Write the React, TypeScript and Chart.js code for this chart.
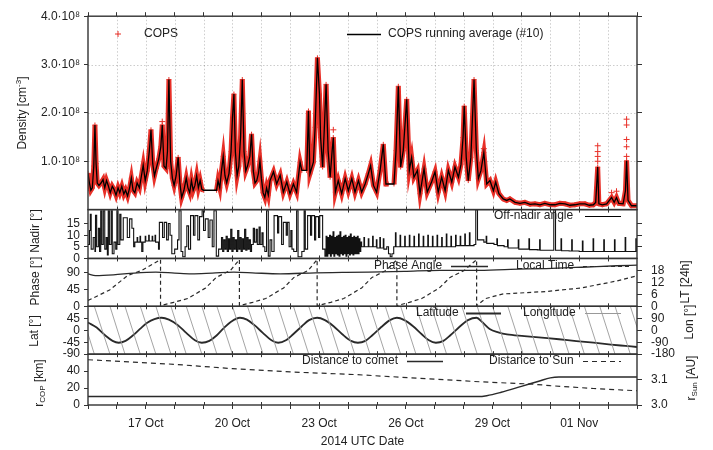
import React, { useEffect, useRef } from 'react';
import { Chart, registerables } from 'chart.js';

Chart.register(...registerables);

// x values: days since 2014-10-15 00:00 UTC
const xMin = 0;
const xMax = 19;
const xTickLabelDays = [2, 5, 8, 11, 14, 17];
const xTickLabels = ['17 Oct', '20 Oct', '23 Oct', '26 Oct', '29 Oct', '01 Nov'];

// COPS density, running average (#10), units of 1e8 cm^-3
const copsAvg: [number, number][] = [
  [0.00, 0.75], [0.05, 0.55], [0.10, 0.40], [0.15, 0.45], [0.20, 0.90], [0.24, 1.75], [0.28, 0.95], [0.32, 0.55],
  [0.38, 0.50], [0.45, 0.55], [0.52, 0.62], [0.58, 0.45], [0.64, 0.60], [0.70, 0.50], [0.77, 0.35], [0.84, 0.48],
  [0.90, 0.42], [0.97, 0.30], [1.04, 0.45], [1.10, 0.35], [1.17, 0.48], [1.24, 0.32], [1.30, 0.40], [1.37, 0.28],
  [1.44, 0.45], [1.50, 0.65], [1.56, 0.40], [1.62, 0.35], [1.70, 0.55], [1.78, 0.45], [1.85, 0.70], [1.91, 0.92],
  [1.98, 0.60], [2.05, 0.80], [2.12, 1.20], [2.18, 1.65], [2.24, 0.95], [2.30, 0.70], [2.36, 0.85], [2.45, 1.05],
  [2.52, 1.30], [2.57, 1.75], [2.63, 0.90], [2.70, 0.85], [2.75, 1.20], [2.80, 2.69], [2.86, 1.00], [2.92, 0.65],
  [2.98, 0.50], [3.05, 0.70], [3.12, 1.08], [3.18, 0.55], [3.24, 0.25], [3.32, 0.40], [3.40, 0.65], [3.46, 0.45],
  [3.52, 0.35], [3.58, 0.60], [3.64, 0.40], [3.70, 0.50], [3.76, 0.70], [3.82, 0.45], [3.88, 0.60], [3.94, 0.42],
  [4.00, 0.40], [4.45, 0.40], [4.50, 0.60], [4.56, 0.45], [4.62, 0.80], [4.68, 1.10], [4.74, 0.70], [4.80, 0.55],
  [4.88, 0.75], [4.95, 1.20], [5.00, 1.90], [5.05, 2.39], [5.10, 1.20], [5.16, 0.70], [5.22, 0.90], [5.28, 1.50],
  [5.34, 2.69], [5.40, 1.20], [5.46, 0.80], [5.52, 0.90], [5.60, 1.10], [5.66, 1.56], [5.72, 0.80], [5.78, 0.55],
  [5.84, 0.60], [5.90, 0.75], [5.95, 1.00], [6.00, 0.65], [6.06, 0.35], [6.12, 0.25], [6.18, 0.45], [6.24, 0.30],
  [6.30, 0.60], [6.42, 0.78], [6.53, 0.53], [6.65, 0.71], [6.76, 0.36], [6.88, 0.57], [6.99, 0.33], [7.11, 0.53],
  [7.22, 0.36], [7.34, 0.98], [7.40, 0.81], [7.57, 0.81], [7.63, 2.04], [7.68, 0.74], [7.80, 0.98], [7.86, 1.70],
  [7.94, 3.14], [8.01, 2.39], [8.05, 1.49], [8.12, 0.88], [8.18, 1.70], [8.24, 2.59], [8.31, 1.22], [8.38, 0.67],
  [8.45, 1.22], [8.49, 1.49], [8.56, 0.36], [8.66, 0.60], [8.78, 0.33], [8.90, 0.64], [9.01, 0.39], [9.13, 0.64],
  [9.24, 0.36], [9.36, 0.60], [9.47, 0.36], [9.59, 0.53], [9.70, 0.74], [9.78, 0.91], [9.88, 0.50], [9.99, 0.36],
  [10.11, 0.81], [10.22, 1.35], [10.31, 0.53], [10.39, 0.53], [10.59, 0.53], [10.66, 1.22], [10.74, 2.55], [10.82, 0.88],
  [10.91, 1.22], [11.03, 2.28], [11.12, 0.81], [11.20, 1.08], [11.28, 0.67], [11.40, 0.81], [11.49, 0.33], [11.63, 0.84],
  [11.74, 0.36], [11.89, 0.57], [12.01, 0.78], [12.12, 0.36], [12.24, 0.67], [12.36, 0.39], [12.47, 0.81], [12.59, 0.57],
  [12.70, 0.88], [12.82, 0.67], [12.91, 0.94], [12.98, 1.49], [13.02, 2.14], [13.09, 1.08], [13.16, 0.60], [13.25, 1.08],
  [13.36, 2.69], [13.44, 1.22], [13.51, 0.64], [13.60, 0.81], [13.70, 1.18], [13.80, 0.53], [13.91, 0.60], [14.03, 0.39],
  [14.11, 0.57], [14.22, 0.33], [14.37, 0.22], [14.49, 0.19], [14.60, 0.22], [14.78, 0.15], [14.95, 0.13], [15.12, 0.15],
  [15.30, 0.11], [15.47, 0.12], [15.64, 0.10], [15.81, 0.13], [16.00, 0.10], [16.16, 0.10], [16.33, 0.13], [16.51, 0.12],
  [16.68, 0.09], [16.85, 0.10], [17.02, 0.12], [17.20, 0.12], [17.35, 0.09], [17.49, 0.10], [17.57, 0.15], [17.64, 0.88],
  [17.68, 0.12], [17.80, 0.10], [17.95, 0.12], [18.12, 0.25], [18.21, 0.15], [18.29, 0.25], [18.37, 0.13], [18.52, 0.12],
  [18.60, 0.39], [18.64, 1.01], [18.69, 0.19], [18.81, 0.08], [19.00, 0.08],
];
// data gaps in the raw COPS record (days)
const copsGaps: [number, number][] = [[4.00, 4.45], [7.40, 7.57], [10.39, 10.59]];
// raw COPS samples standing above the running average
const copsOutliers: [number, number][] = [
  [2.57, 1.82], [8.49, 1.65], [13.70, 1.26], [18.12, 0.35], [18.29, 0.38],
  [17.64, 1.00], [17.64, 1.10], [17.64, 1.20], [17.64, 1.32],
  [18.64, 1.10], [18.64, 1.30], [18.64, 1.45], [18.64, 1.75], [18.64, 1.87],
];

// Off-nadir angle [deg]
const nadirPoints: [number, number][] = [
  [0.00, 6], [0.05, 12], [0.08, 19], [0.11, 4], [0.18, 9], [0.24, 3], [0.26, 18.5], [0.30, 5], [0.36, 13], [0.40, 3],
  [0.44, 20.5], [0.48, 6], [0.53, 20.5], [0.58, 4], [0.63, 9], [0.67, 1.5], [0.70, 20.5], [0.74, 6], [0.80, 20.5], [0.84, 2],
  [0.90, 7], [0.96, 4], [1.00, 20.5], [1.04, 6], [1.10, 19], [1.14, 8], [1.22, 17.5], [1.36, 9], [1.44, 17], [1.52, 13],
  [1.58, 5], [1.62, 7], [1.70, 9], [1.72, 7], [1.80, 9.5], [1.82, 7], [1.86, 3], [1.90, 7], [1.98, 9.5], [2.00, 7.5],
  [2.10, 10], [2.12, 7.5], [2.22, 9.5], [2.24, 7.5], [2.32, 10], [2.34, 7], [2.44, 4], [2.47, 15.5], [2.58, 9], [2.64, 15.5],
  [2.72, 8], [2.78, 15], [2.84, 10], [2.90, 2], [3.00, 4], [3.10, 8], [3.15, 20.5], [3.22, 3], [3.28, 0.7], [3.36, 5],
  [3.42, 14], [3.48, 4], [3.55, 18.4], [3.65, 10], [3.70, 18.4], [3.80, 8], [3.86, 18], [3.95, 20.5], [4.00, 12], [4.06, 17],
  [4.16, 9], [4.22, 16.5], [4.30, 5], [4.36, 20.5], [4.44, 1], [4.52, 4],
  [4.62, 9], [4.66, 3], [4.70, 8], [4.74, 4], [4.78, 9.5], [4.82, 3], [4.86, 8.5], [4.90, 4], [4.94, 12.5], [4.98, 3],
  [5.02, 9], [5.06, 4], [5.10, 8], [5.14, 3], [5.18, 12], [5.22, 4], [5.26, 9], [5.30, 3], [5.34, 8.5], [5.38, 4],
  [5.42, 12.5], [5.46, 3.5], [5.50, 9], [5.54, 4], [5.58, 8], [5.62, 3],
  [5.66, 6], [5.72, 13], [5.76, 7], [5.82, 12.5], [5.86, 6], [5.92, 13.5], [5.96, 6], [6.02, 11], [6.06, 5], [6.12, 3],
  [6.18, 20.5], [6.24, 1], [6.30, 8], [6.36, 3], [6.44, 18.4], [6.56, 11], [6.60, 18], [6.70, 6], [6.76, 15.5], [6.86, 10],
  [6.90, 15.5], [6.96, 5], [7.02, 12], [7.06, 4], [7.12, 3], [7.22, 20.5], [7.27, 0.7], [7.40, 3], [7.48, 20.5], [7.52, 4],
  [7.60, 18.4], [7.70, 10], [7.74, 18.4], [7.84, 8], [7.88, 18], [7.98, 9], [8.02, 18.4], [8.12, 4], [8.20, 1],
  [8.24, 9.5], [8.27, 1], [8.30, 9], [8.33, 2], [8.36, 10], [8.39, 1], [8.42, 9.5], [8.45, 2], [8.48, 11.5], [8.51, 1],
  [8.54, 9], [8.57, 2], [8.60, 9.5], [8.63, 1.5], [8.66, 10], [8.69, 1], [8.72, 11.5], [8.75, 2], [8.78, 9], [8.81, 1.5],
  [8.84, 9.5], [8.87, 2], [8.90, 10], [8.93, 1], [8.96, 9], [8.99, 2], [9.02, 9.5], [9.05, 1.5], [9.08, 10.5], [9.11, 2],
  [9.14, 9], [9.17, 1.5], [9.20, 9.5], [9.23, 2], [9.26, 9], [9.29, 2], [9.32, 9.5], [9.35, 2], [9.38, 8.5], [9.41, 3],
  [9.44, 7],
  [9.47, 5], [9.55, 9], [9.57, 5], [9.70, 8.5], [9.72, 5], [9.85, 9.5], [9.87, 5], [9.98, 8], [10.00, 4.5], [10.10, 9],
  [10.12, 4.5], [10.22, 8.5], [10.24, 4], [10.34, 5], [10.40, 2], [10.46, 0.7], [10.52, 2], [10.58, 5], [10.64, 11], [10.66, 5],
  [10.80, 10], [10.82, 5], [10.96, 9.5], [10.98, 5], [11.12, 10], [11.14, 5], [11.28, 9.5], [11.30, 5], [11.44, 10.5], [11.46, 5],
  [11.60, 9.5], [11.62, 5], [11.76, 10], [11.78, 5], [11.92, 9.5], [11.94, 5], [12.08, 10], [12.10, 5], [12.24, 9], [12.26, 5],
  [12.40, 10.5], [12.42, 5], [12.56, 9.5], [12.58, 5], [12.72, 10], [12.74, 5.5], [12.88, 9.5], [12.90, 5.5], [13.04, 10.5], [13.06, 5.5],
  [13.20, 11], [13.22, 5.5], [13.36, 6],
  [13.42, 21], [13.48, 8], [13.70, 7], [13.78, 9.5], [13.80, 6.5], [14.05, 6], [14.15, 8.5], [14.17, 5.5], [14.40, 5], [14.52, 8],
  [14.54, 4.5], [14.80, 4.5], [14.89, 8], [14.91, 4], [15.15, 4], [15.26, 8.5], [15.28, 3.8], [15.55, 3.7], [15.63, 8], [15.65, 3.5],
  [15.95, 3.5], [16.08, 3.5], [16.12, 21], [16.18, 3.5], [16.37, 8.5], [16.39, 3.3], [16.65, 3.2], [16.74, 8], [16.76, 3.2], [17.00, 3],
  [17.11, 7.5], [17.13, 3], [17.40, 3], [17.48, 8.5], [17.50, 3], [17.75, 3], [17.85, 8], [17.87, 3], [18.10, 3], [18.22, 8],
  [18.24, 3], [18.50, 3], [18.59, 9], [18.61, 3], [18.85, 3], [18.96, 8.5], [18.98, 3], [19.00, 3],
];

// Phase angle [deg]
const phasePoints: [number, number][] = [
  [0.00, 87], [0.26, 82], [0.88, 84], [1.60, 89], [2.35, 91.5], [3.00, 89], [3.58, 87], [4.30, 89], [5.05, 91.5],
  [5.80, 89], [6.65, 87], [7.87, 89.6], [8.80, 90.5], [9.71, 91.5], [10.94, 93.3], [12.17, 96], [13.39, 96],
  [14.62, 99], [15.85, 101], [17.08, 104.5], [18.30, 108.5], [19.00, 110],
];

// Local time [h]
const ltPoints: [number, number][] = [
  [0.00, 2.9], [0.75, 8.2], [1.37, 15.4], [1.86, 18.0], [2.51, 23.4],
  [2.51, 0.3], [2.97, 2.0], [3.45, 3.9], [4.07, 9.2], [4.44, 14.5], [4.93, 18.0], [5.24, 23.4],
  [5.24, 0.3], [5.70, 2.0], [6.15, 3.9], [6.77, 9.2], [7.13, 14.5], [7.62, 18.0], [7.93, 23.4],
  [7.93, 0.3], [8.40, 2.0], [8.85, 3.9], [9.47, 9.2], [9.83, 14.5], [10.32, 18.0], [10.69, 23.4],
  [10.69, 0.3], [11.12, 2.0], [11.55, 3.9], [12.16, 9.2], [12.53, 14.5], [13.02, 18.0], [13.45, 23.4],
  [13.45, 0.3], [13.76, 3.9], [14.37, 6.2], [15.84, 7.4], [17.07, 9.2], [18.30, 12.7], [19.00, 15.3],
];

// Sub-spacecraft latitude [deg]
const latPoints: [number, number][] = [
  [0.00, 29], [0.30, 10], [0.60, -20], [0.85, -40], [1.06, -47], [1.30, -40], [1.55, -20], [1.80, 5], [2.05, 28],
  [2.30, 42], [2.55, 47], [2.80, 40], [3.10, 20], [3.40, -10], [3.70, -38], [3.94, -47], [4.20, -40], [4.45, -20],
  [4.70, 8], [4.95, 32], [5.26, 47], [5.50, 40], [5.75, 20], [6.05, -10], [6.35, -38], [6.58, -47], [6.85, -38],
  [7.10, -15], [7.40, 15], [7.65, 38], [7.93, 47], [8.20, 38], [8.50, 15], [8.80, -15], [9.10, -40], [9.34, -47],
  [9.60, -40], [9.85, -18], [10.15, 12], [10.45, 38], [10.69, 47], [10.95, 38], [11.25, 15], [11.55, -15], [11.80, -38],
  [12.04, -47], [12.30, -40], [12.55, -18], [12.85, 12], [13.15, 38], [13.45, 47], [13.65, 30], [13.90, 5], [14.20, -8],
  [14.50, -16], [15.10, -22], [15.70, -28], [16.30, -34], [16.90, -41], [17.50, -47], [18.10, -54], [18.60, -59], [19.00, -63],
];

// Longitude wraps (+180 -> -180) [days]
const lonWrapDays = [
  -0.30, 0.22, 0.76, 1.28, 1.81, 2.35, 2.87, 3.40, 3.94, 4.46, 5.00, 5.52, 6.06, 6.58, 7.11, 7.64, 8.17, 8.70, 9.23,
  9.76, 10.29, 10.82, 11.35, 11.88, 12.41, 12.94, 13.47, 14.00, 14.53, 15.06, 15.59, 16.12, 16.65, 17.18, 17.71, 18.24,
  18.77, 19.30,
];

// Distance to comet [km]
const cometDistPoints: [number, number][] = [
  [0.00, 10], [13.50, 10], [13.80, 11], [14.30, 15], [15.00, 22], [15.60, 28], [16.00, 32], [16.30, 33], [19.00, 33],
];
// Distance to Sun [AU]
const sunDistPoints: [number, number][] = [
  [0.00, 3.178], [3.00, 3.160], [5.00, 3.143], [7.00, 3.130], [9.20, 3.120], [11.50, 3.105], [13.60, 3.091],
  [15.40, 3.082], [16.00, 3.076], [17.50, 3.065], [19.00, 3.056],
];

const densityTicks = [1, 2, 3, 4];
const nadirTicks = [0, 5, 10, 15];
const nadirRightTicks = [5, 10, 15];
const phaseTicks = [0, 45, 90];
const ltTicks = [0, 6, 12, 18];
const latTicks = [-90, -45, 0, 45];
const lonTicks = [-180, -90, 0, 90];
const distTicks = [0, 20, 40];
const auTicks = [3.0, 3.1];

const FONT = "'Liberation Sans', Arial, Helvetica, sans-serif";
const TXT = '#222';
const RED = 'rgb(232,48,40)';
const LINE = '#2a2a2a';

const pts = (a: [number, number][]) => a.map(([x, y]) => ({ x, y }));
const inGap = (d: number) => copsGaps.some(([a, b]) => d > a && d < b);

function drawRich(ctx: any, parts: any[], cx: number, cy: number, rot: number) {
  ctx.save();
  ctx.translate(cx, cy);
  ctx.rotate(rot);
  let total = 0;
  for (const p of parts) {
    ctx.font = `${p.size}px ${FONT}`;
    total += ctx.measureText(p.t).width;
  }
  let x = -total / 2;
  ctx.textBaseline = 'middle';
  ctx.textAlign = 'left';
  ctx.fillStyle = TXT;
  for (const p of parts) {
    ctx.font = `${p.size}px ${FONT}`;
    ctx.fillText(p.t, x, p.dy || 0);
    x += ctx.measureText(p.t).width;
  }
  ctx.restore();
}

const axisTitles = [
  { parts: [{ t: 'Density [cm', size: 12 }, { t: '-3', size: 8, dy: -4 }, { t: ']', size: 12 }], x: 23, y: 113 },
  { parts: [{ t: 'Nadir [°]', size: 12 }], x: 36, y: 231 },
  { parts: [{ t: 'Phase [°]', size: 12 }], x: 36, y: 281 },
  { parts: [{ t: 'Lat [°]', size: 12 }], x: 35, y: 331 },
  { parts: [{ t: 'r', size: 12 }, { t: 'COP', size: 8, dy: 3 }, { t: ' [km]', size: 12 }], x: 40, y: 383 },
  { parts: [{ t: 'LT [24h]', size: 12 }], x: 686, y: 282 },
  { parts: [{ t: 'Lon [°]', size: 12 }], x: 690, y: 322 },
  { parts: [{ t: 'r', size: 12 }, { t: 'Sun', size: 8, dy: 3 }, { t: ' [AU]', size: 12 }], x: 692, y: 378 },
];

const legendItems = [
  { text: 'COPS', tx: 144, y: 34, marker: true, mx: 118, color: RED },
  { text: 'COPS running average (#10)', tx: 388, y: 34, s0: 347, s1: 381, color: '#000', w: 1.4, dash: [] },
  { text: 'Off-nadir angle', tx: 494, y: 216, s0: 585, s1: 621, color: '#000', w: 1.2, dash: [] },
  { text: 'Phase Angle', tx: 374, y: 266, s0: 451, s1: 488, color: LINE, w: 1.3, dash: [] },
  { text: 'Local Time', tx: 516, y: 266, s0: 583, s1: 631, color: LINE, w: 1.2, dash: [4, 3] },
  { text: 'Latitude', tx: 416, y: 313, s0: 466, s1: 501, color: LINE, w: 1.8, dash: [] },
  { text: 'Longitude', tx: 523, y: 313, s0: 585, s1: 621, color: '#999', w: 1, dash: [] },
  { text: 'Distance to comet', tx: 302, y: 361, s0: 407, s1: 443, color: LINE, w: 1.5, dash: [] },
  { text: 'Distance to Sun', tx: 489, y: 361, s0: 583, s1: 621, color: LINE, w: 1.2, dash: [5, 4] },
];

const panelIds = ['yD', 'yN', 'yP', 'yL', 'yR'];

const overlay = {
  id: 'overlay',
  beforeDatasetsDraw(chart: any) {
    const { ctx, chartArea: a, scales } = chart;
    const xs = scales.x;
    const yD = scales.yD;
    ctx.save();
    ctx.strokeStyle = 'rgba(0,0,0,0.2)';
    ctx.lineWidth = 1;
    ctx.setLineDash([1.5, 2]);
    for (let d = xMin + 1; d < xMax; d++) {
      const px = Math.round(xs.getPixelForValue(d)) + 0.5;
      ctx.beginPath();
      ctx.moveTo(px, yD.top);
      ctx.lineTo(px, yD.bottom);
      ctx.stroke();
    }
    for (const v of [1, 2, 3]) {
      const py = Math.round(yD.getPixelForValue(v)) + 0.5;
      ctx.beginPath();
      ctx.moveTo(a.left, py);
      ctx.lineTo(a.right, py);
      ctx.stroke();
    }
    ctx.restore();
  },
  afterDatasetsDraw(chart: any) {
    const { ctx, chartArea: a, scales } = chart;
    const xs = scales.x;
    ctx.save();
    ctx.strokeStyle = '#333';
    ctx.lineWidth = 1;
    ctx.setLineDash([]);
    // small inward day ticks on panel edges
    panelIds.forEach((id, i) => {
      const s = scales[id];
      for (let d = xMin + 1; d < xMax; d++) {
        const px = Math.round(xs.getPixelForValue(d)) + 0.5;
        ctx.beginPath();
        if (i > 0) {
          ctx.moveTo(px, s.top);
          ctx.lineTo(px, s.top + 3);
        }
        ctx.moveTo(px, s.bottom);
        ctx.lineTo(px, s.bottom - 3);
        ctx.stroke();
      }
    });
    ctx.lineWidth = 1.4;
    ctx.strokeStyle = '#333';
    for (const id of panelIds) {
      const s = scales[id];
      ctx.strokeRect(a.left, s.top, a.right - a.left, s.bottom - s.top);
    }
    ctx.restore();
  },
  afterDraw(chart: any) {
    const { ctx } = chart;
    ctx.save();
    ctx.font = `12px ${FONT}`;
    ctx.fillStyle = TXT;
    ctx.textBaseline = 'middle';
    ctx.textAlign = 'left';
    for (const it of legendItems as any[]) {
      ctx.fillText(it.text, it.tx, it.y);
      ctx.strokeStyle = it.color;
      if (it.marker) {
        ctx.lineWidth = 1;
        ctx.setLineDash([]);
        ctx.beginPath();
        ctx.moveTo(it.mx - 3, it.y);
        ctx.lineTo(it.mx + 3, it.y);
        ctx.moveTo(it.mx, it.y - 3);
        ctx.lineTo(it.mx, it.y + 3);
        ctx.stroke();
      } else {
        ctx.lineWidth = it.w;
        ctx.setLineDash(it.dash);
        ctx.beginPath();
        ctx.moveTo(it.s0, it.y + 0.5);
        ctx.lineTo(it.s1, it.y + 0.5);
        ctx.stroke();
      }
    }
    ctx.setLineDash([]);
    for (const t of axisTitles) drawRich(ctx, t.parts, t.x, t.y, -Math.PI / 2);
    ctx.font = `12px ${FONT}`;
    ctx.fillStyle = TXT;
    ctx.textAlign = 'center';
    ctx.textBaseline = 'middle';
    const xs = chart.scales.x;
    ctx.fillText('2014 UTC Date', (xs.left + xs.right) / 2, 442);
    ctx.restore();
  },
};

function yAxis(side: 'left' | 'right', stackWeight: number, weight: number, min: number, max: number,
  ticks: number[], showLabels: boolean, fmt?: (v: number) => string) {
  return {
    type: 'linear',
    position: side,
    stack: side === 'left' ? 'L' : 'R',
    stackWeight,
    weight,
    min,
    max,
    afterBuildTicks: (s: any) => { s.ticks = ticks.map((v) => ({ value: v })); },
    afterFit: (s: any) => { s.width = side === 'left' ? 88 : 76; },
    grid: { drawOnChartArea: false, drawTicks: true, tickLength: side === 'left' ? 4 : 5, tickColor: '#333', tickWidth: 1 },
    border: { display: false },
    ticks: {
      display: showLabels,
      autoSkip: false,
      padding: side === 'left' ? 4 : 9,
      color: TXT,
      font: { size: 12, family: FONT },
      callback: (v: number) => (fmt ? fmt(v) : String(v)),
    },
  };
}

export default function App() {
  const ref = useRef<HTMLCanvasElement | null>(null);
  useEffect(() => {
    if (!ref.current) return;
    const lonData: any[] = [];
    for (let i = 0; i < lonWrapDays.length - 1; i++) {
      lonData.push({ x: lonWrapDays[i], y: 180 }, { x: lonWrapDays[i + 1], y: -180 }, { x: lonWrapDays[i + 1], y: null });
    }
    const dayTicks = Array.from({ length: xMax - xMin + 1 }, (_, i) => xMin + i);
    const chart = new Chart(ref.current, {
      type: 'line',
      data: {
        datasets: [
          {
            label: 'COPS running average (#10)', data: pts(copsAvg), xAxisID: 'x', yAxisID: 'yD',
            borderColor: '#000', borderWidth: 1.3, pointRadius: 0, order: 0,
          },
          {
            label: 'COPS', data: pts(copsAvg), xAxisID: 'x', yAxisID: 'yD',
            borderColor: RED, borderWidth: 5, pointRadius: 2.5, pointStyle: 'cross',
            pointBorderColor: RED, pointBorderWidth: 1, order: 1,
            segment: { borderColor: (c: any) => (inGap((c.p0.parsed.x + c.p1.parsed.x) / 2) ? 'rgba(0,0,0,0)' : RED) },
          },
          {
            label: 'COPS outliers', data: pts(copsOutliers), xAxisID: 'x', yAxisID: 'yD', showLine: false,
            pointRadius: 3, pointStyle: 'cross', pointBorderColor: RED, pointBorderWidth: 1, order: 2,
          },
          {
            label: 'Off-nadir angle', data: pts(nadirPoints), xAxisID: 'x', yAxisID: 'yN',
            borderColor: '#111', borderWidth: 1.1, pointRadius: 0, stepped: true,
          },
          {
            label: 'Phase Angle', data: pts(phasePoints), xAxisID: 'x', yAxisID: 'yP',
            borderColor: LINE, borderWidth: 1.3, pointRadius: 0, cubicInterpolationMode: 'monotone',
          },
          {
            label: 'Local Time', data: pts(ltPoints), xAxisID: 'x', yAxisID: 'rLT',
            borderColor: LINE, borderWidth: 1.2, pointRadius: 0, borderDash: [4, 3],
          },
          {
            label: 'Longitude', data: lonData, xAxisID: 'x', yAxisID: 'rLon',
            borderColor: '#9a9a9a', borderWidth: 0.9, pointRadius: 0, spanGaps: false,
          },
          {
            label: 'Latitude', data: pts(latPoints), xAxisID: 'x', yAxisID: 'yL',
            borderColor: LINE, borderWidth: 1.8, pointRadius: 0, cubicInterpolationMode: 'monotone',
          },
          {
            label: 'Distance to comet', data: pts(cometDistPoints), xAxisID: 'x', yAxisID: 'yR',
            borderColor: LINE, borderWidth: 1.5, pointRadius: 0, cubicInterpolationMode: 'monotone',
          },
          {
            label: 'Distance to Sun', data: pts(sunDistPoints), xAxisID: 'x', yAxisID: 'rAU',
            borderColor: LINE, borderWidth: 1.2, pointRadius: 0, borderDash: [5, 4],
          },
        ] as any,
      },
      options: {
        responsive: false,
        animation: false,
        devicePixelRatio: 1,
        events: [],
        layout: { padding: 0 },
        plugins: { legend: { display: false }, tooltip: { enabled: false } },
        scales: {
          x: {
            type: 'linear', position: 'bottom', min: xMin, max: xMax,
            afterBuildTicks: (s: any) => { s.ticks = dayTicks.map((v) => ({ value: v })); },
            afterFit: (s: any) => { s.height = 45; },
            grid: { drawOnChartArea: false, tickLength: 4, tickColor: '#333' },
            border: { display: false },
            ticks: {
              autoSkip: false, maxRotation: 0, padding: 7, color: TXT, font: { size: 12, family: FONT },
              callback: (v: number) => {
                const i = xTickLabelDays.indexOf(v);
                return i >= 0 ? xTickLabels[i] : '';
              },
            },
          },
          xTop: {
            type: 'linear', position: 'top', min: xMin, max: xMax,
            afterBuildTicks: (s: any) => { s.ticks = dayTicks.map((v) => ({ value: v })); },
            afterFit: (s: any) => { s.height = 15; },
            grid: { drawOnChartArea: false, tickLength: 4, tickColor: '#333' },
            border: { display: false },
            ticks: { display: false },
          },
          yD: yAxis('left', 194, 5, 0, 4, densityTicks, true, (v) => `${v.toFixed(1)}·10⁸`),
          yN: yAxis('left', 49, 4, 0, 21, nadirTicks, true),
          yP: yAxis('left', 48, 3, 0, 128, phaseTicks, true),
          yL: yAxis('left', 48, 2, -90, 90, latTicks, true),
          yR: yAxis('left', 51, 1, 0, 60, distTicks, true),
          rD: yAxis('right', 194, 1, 0, 4, densityTicks, false),
          rN: yAxis('right', 49, 2, 0, 21, nadirRightTicks, false),
          rLT: yAxis('right', 48, 3, 0, 24, ltTicks, true),
          rLon: yAxis('right', 48, 4, -180, 180, lonTicks, true),
          rAU: yAxis('right', 51, 5, 3.0, 3.2, auTicks, true, (v) => v.toFixed(1)),
        } as any,
      },
      plugins: [overlay],
    } as any);
    return () => chart.destroy();
  }, []);
  return (
    <div style={{ position: 'absolute', left: 0, top: 0, width: 713, height: 450, background: '#fff' }}>
      <canvas ref={ref} width={713} height={450} style={{ width: 713, height: 450 }} />
    </div>
  );
}
